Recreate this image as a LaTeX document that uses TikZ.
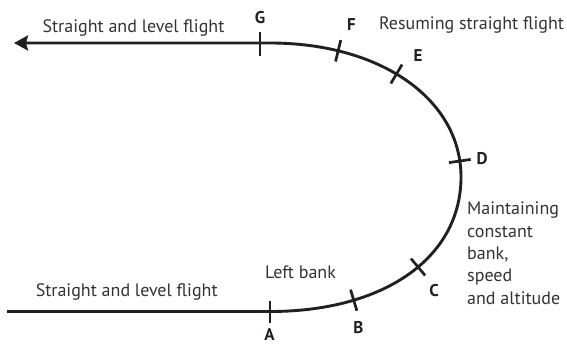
\documentclass[tikz,border=0pt]{standalone}
\usepackage{fontspec}
\setmainfont{PT Sans}
\usetikzlibrary{arrows.meta}
\definecolor{ink}{HTML}{231F20}
\definecolor{txt}{HTML}{333333}
\begin{document}
\begin{tikzpicture}[x=1pt,y=-1pt,
  flight/.style={draw=ink, line width=2.9pt},
  tickpt/.style={shape=rectangle, minimum height=22pt, minimum width=0pt, inner sep=0pt, outer sep=0pt},
  tickline/.style={draw=ink, line width=2.7pt},
  letter/.style={font=\fontsize{17}{19}\selectfont\bfseries, text=ink, inner sep=0pt},
  note/.style={font=\fontsize{18}{22.3}\selectfont, text=txt, inner sep=0pt}]
\useasboundingbox (0,0) rectangle (567,345);
% route
\coordinate (start) at (7,311.5);
\coordinate (turnin) at (270,311.5);
\coordinate (right) at (461,177);
\coordinate (turnout) at (270,43);
\coordinate (finish) at (14,43);
\draw[flight, -{Stealth[length=14pt,width=15pt,inset=2pt]}]
  (start) -- (turnin)
  .. controls (384.6,311.5) and (461,257.4) ..
  node[tickpt, sloped, pos=0.27] (B) {}
  node[tickpt, sloped, pos=0.55] (C) {}
  (right)
  .. controls (461,99.3) and (380.8,43) ..
  node[tickpt, sloped, pos=0.07] (D) {}
  node[tickpt, sloped, pos=0.55] (E) {}
  node[tickpt, sloped, pos=0.78] (F) {}
  (turnout) -- (finish);
\node[tickpt] (A) at (270,311.5) {};
\node[tickpt, minimum height=24pt] (G) at (260,44.5) {};
\foreach \t in {A,B,C,D,E,F,G}{
  \draw[tickline] (\t.north) -- (\t.south);
}
% letters
\node[letter] (lA) at (269.5,335) {A};
\node[letter] (lB) at (358.5,328) {B};
\node[letter] (lC) at (434,291) {C};
\node[letter] (lD) at (482,159) {D};
\node[letter] (lE) at (418,56) {E};
\node[letter] (lF) at (351.5,25) {F};
\node[letter] (lG) at (260,18) {G};
% notes
\node[note] (top) at (133.5,28) {Straight and level flight};
\node[note] (bottom) at (126.7,291.5) {Straight and level flight};
\node[note] (resume) at (471.5,25) {Resuming straight flight};
\node[note] (left) at (300.5,272) {Left bank};
\node[note, anchor=north west, align=left] (maint) at (467,202) {Maintaining\\constant\\bank,\\speed\\and altitude};
\end{tikzpicture}
\end{document}
